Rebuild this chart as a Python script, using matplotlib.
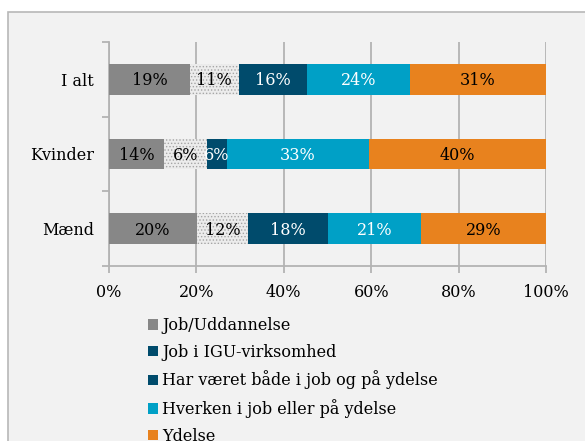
import numpy as np
import matplotlib.pyplot as plt
from matplotlib.patches import Patch, Rectangle

categories = ['I alt', 'Kvinder', 'Mænd']
series = ['Job/Uddannelse', 'Job i IGU-virksomhed', 'Har været både i job og på ydelse',
          'Hverken i job eller på ydelse', 'Ydelse']
# bar lengths as drawn (percent)
job_udd = [18.5, 12.6, 20.1]
job_igu = [11.2, 9.8, 11.7]
begge = [15.6, 4.6, 18.3]
hverken = [23.6, 32.5, 21.3]
ydelse = [31.1, 40.5, 28.6]
# printed data labels
lab_job_udd = ['19%', '14%', '20%']
lab_job_igu = ['11%', '6%', '12%']
lab_begge = ['16%', '6%', '18%']
lab_hverken = ['24%', '33%', '21%']
lab_ydelse = ['31%', '40%', '29%']
xticks = [0, 20, 40, 60, 80, 100]

values = [job_udd, job_igu, begge, hverken, ydelse]
labels = [lab_job_udd, lab_job_igu, lab_begge, lab_hverken, lab_ydelse]
colors = ['#878787', '#ececec', '#004b6c', '#00a0c6', '#e8821e']
txt_colors = ['black', 'black', 'white', 'white', 'black']
legend_colors = ['#878787', '#004b6c', '#004b6c', '#00a0c6', '#e8821e']

plt.rcParams['font.family'] = 'DejaVu Serif'
plt.rcParams['hatch.linewidth'] = 0.6
fs = 11.5

fig = plt.figure(figsize=(5.85, 4.41), dpi=100)
fig.patch.set_facecolor('white')
fig.patches.append(Rectangle((8 / 585, -0.1), 1.2, 1 - 12 / 441 + 0.1, transform=fig.transFigure,
                             facecolor='#f2f2f2', edgecolor='#b8b8b8', linewidth=1.2, zorder=-10))

ax = fig.add_axes([109 / 585, 1 - 266 / 441, 437 / 585, 224 / 441])
ax.set_facecolor('none')

y = np.arange(len(categories))
left = np.zeros(len(categories))
for i, vals in enumerate(values):
    if i == 1:
        bars = ax.barh(y, vals, left=left, height=0.41, color=colors[i], hatch='.....',
                       edgecolor='#a5a5a5', linewidth=0, zorder=3)
    else:
        bars = ax.barh(y, vals, left=left, height=0.41, color=colors[i], linewidth=0, zorder=3)
    for j, b in enumerate(bars):
        ax.text(left[j] + vals[j] / 2, y[j] + 0.02, labels[i][j], ha='center', va='center',
                color=txt_colors[i], fontsize=fs, zorder=4)
    left += np.array(vals)

ax.set_xlim(0, 100)
ax.set_ylim(2.5, -0.5)
ax.set_xticks(xticks)
ax.set_xticklabels([f'{t}%' for t in xticks], fontsize=fs)
ax.xaxis.grid(True, color='#b3b3b3', linewidth=1.3, zorder=0)
ax.set_axisbelow(True)

ax.set_yticks([-0.5, 0.5, 1.5, 2.5])
ax.set_yticklabels([])
ax.set_yticks(y, minor=True)
ax.set_yticklabels(categories, minor=True, fontsize=fs)
ax.tick_params(axis='y', which='minor', length=0, pad=11)
ax.tick_params(axis='y', which='major', length=5, color='#b3b3b3', width=1.3)
ax.tick_params(axis='x', length=5, color='#b3b3b3', width=1.3, pad=8)

for s in ['top', 'right']:
    ax.spines[s].set_visible(False)
for s in ['left', 'bottom']:
    ax.spines[s].set_color('#b3b3b3')
    ax.spines[s].set_linewidth(1.3)

handles = [Patch(facecolor=c, edgecolor='none') for c in legend_colors]
fig.legend(handles, series, loc='upper left', bbox_to_anchor=(148 / 585, 1 - 317 / 441),
           frameon=False, fontsize=fs, handlelength=0.63, handleheight=0.63, handletextpad=0.25,
           labelspacing=0.61, borderpad=0, borderaxespad=0)

fig.savefig('out.png', dpi=100, facecolor=fig.get_facecolor())
